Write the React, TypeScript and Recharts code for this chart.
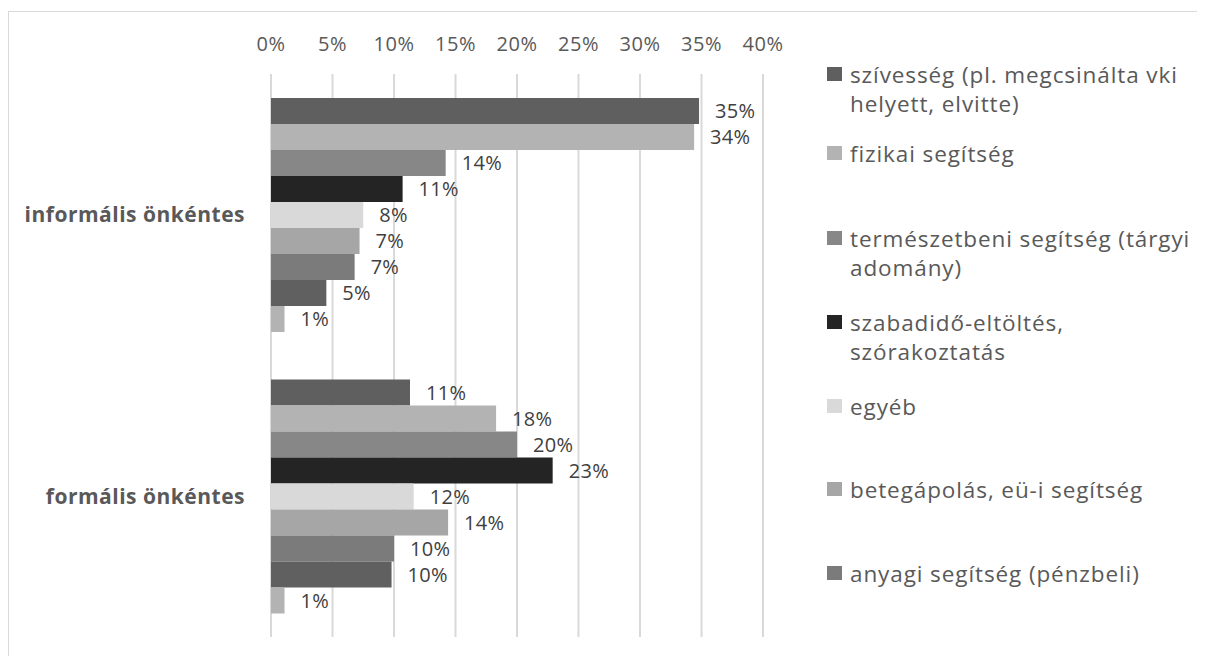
import React from 'react';
import { BarChart, Bar, XAxis, YAxis, CartesianGrid, LabelList } from 'recharts';

const categories = ['informális önkéntes', 'formális önkéntes'];

const szivesseg = [34.8, 11.3];
const fizikai = [34.4, 18.3];
const termeszetbeni = [14.2, 20.0];
const szabadido = [10.7, 22.9];
const egyeb = [7.5, 11.6];
const betegapolas = [7.2, 14.4];
const anyagi = [6.8, 10.0];
const tovabbi1 = [4.5, 9.8];
const tovabbi2 = [1.1, 1.1];

const xTicks = [0, 5, 10, 15, 20, 25, 30, 35, 40];

// legend only shows the first 7 entries (the rest is cut off in the original)
const seriesNames = [
  'szívesség (pl. megcsinálta vki helyett, elvitte)',
  'fizikai segítség',
  'természetbeni segítség (tárgyi adomány)',
  'szabadidő-eltöltés, szórakoztatás',
  'egyéb',
  'betegápolás, eü-i segítség',
  'anyagi segítség (pénzbeli)',
  '',
  '',
];
const seriesValues = [szivesseg, fizikai, termeszetbeni, szabadido, egyeb, betegapolas, anyagi, tovabbi1, tovabbi2];
const seriesColors = ['#5f5f5f', '#b3b3b3', '#878787', '#242424', '#d9d9d9', '#a6a6a6', '#7b7b7b', '#606060', '#b3b3b3'];

// legend line breaks as in the original
const legendLines = [
  ['szívesség (pl. megcsinálta vki', 'helyett, elvitte)'],
  ['fizikai segítség'],
  ['természetbeni segítség (tárgyi', 'adomány)'],
  ['szabadidő-eltöltés,', 'szórakoztatás'],
  ['egyéb'],
  ['betegápolás, eü-i segítség'],
  ['anyagi segítség (pénzbeli)'],
];
const legendTops = [52, 131, 216, 300, 384, 467, 551];

const FONT = '"Open Sans", sans-serif';
const TEXT = '#595959';

const data = categories.map((name, i) => {
  const row: any = { name };
  seriesValues.forEach((vals, s) => {
    row['s' + s] = vals[i];
  });
  return row;
});

function Legend() {
  return (
    <div
      style={{
        position: 'absolute',
        left: 819,
        top: 0,
        fontFamily: FONT,
        fontSize: 22.5,
        letterSpacing: 0.9,
        color: TEXT,
      }}
    >
      {legendLines.map((lines, i) => (
        <div key={i} style={{ position: 'absolute', top: legendTops[i], left: 0, width: 380, lineHeight: '29px' }}>
          <span
            style={{
              position: 'absolute',
              left: 0,
              top: 7,
              width: 15,
              height: 14,
              background: seriesColors[i],
            }}
          />
          <div style={{ marginLeft: 23, whiteSpace: 'nowrap' }}>
            {lines.map((l, j) => (
              <div key={j}>{l}</div>
            ))}
          </div>
        </div>
      ))}
    </div>
  );
}

export default function App() {
  return (
    <div style={{ position: 'relative', height: 648 }}>
      <div
        style={{
          position: 'absolute',
          left: 0,
          right: -8,
          top: 3,
          height: 645,
          borderLeft: '1px solid #d9d9d9',
          borderTop: '1px solid #d9d9d9',
        }}
      />
      <div style={{ position: 'absolute', left: 1, top: 4 }}>
        <BarChart
          width={800}
          height={644}
          data={data}
          layout="vertical"
          barCategoryGap={24}
          barGap={0}
          margin={{ top: 0, right: 46, bottom: 19, left: 0 }}
          style={{ fontFamily: FONT }}
        >
          <CartesianGrid horizontal={false} stroke="#d9d9d9" strokeWidth={2} />
          <XAxis
            type="number"
            orientation="top"
            domain={[0, 40]}
            ticks={xTicks}
            height={62}
            tickLine={false}
            axisLine={false}
            tickMargin={17}
            tickFormatter={(v) => v + '%'}
            tick={{ fill: TEXT, fontSize: 20, letterSpacing: 0.5 }}
          />
          <YAxis
            type="category"
            dataKey="name"
            width={262}
            tickLine={false}
            axisLine={false}
            tickMargin={20}
            tick={{ fill: TEXT, fontSize: 21, fontWeight: 700, letterSpacing: 0.5 }}
          />
          {seriesValues.map((_, s) => (
            <Bar key={s} dataKey={'s' + s} name={seriesNames[s]} fill={seriesColors[s]} isAnimationActive={false}>
              <LabelList
                dataKey={'s' + s}
                position="right"
                offset={16}
                fill="#404040"
                fontSize={20}
                letterSpacing={0.3}
                formatter={(v: any) => Math.round(Number(v)) + '%'}
              />
            </Bar>
          ))}
        </BarChart>
      </div>
      <Legend />
    </div>
  );
}
